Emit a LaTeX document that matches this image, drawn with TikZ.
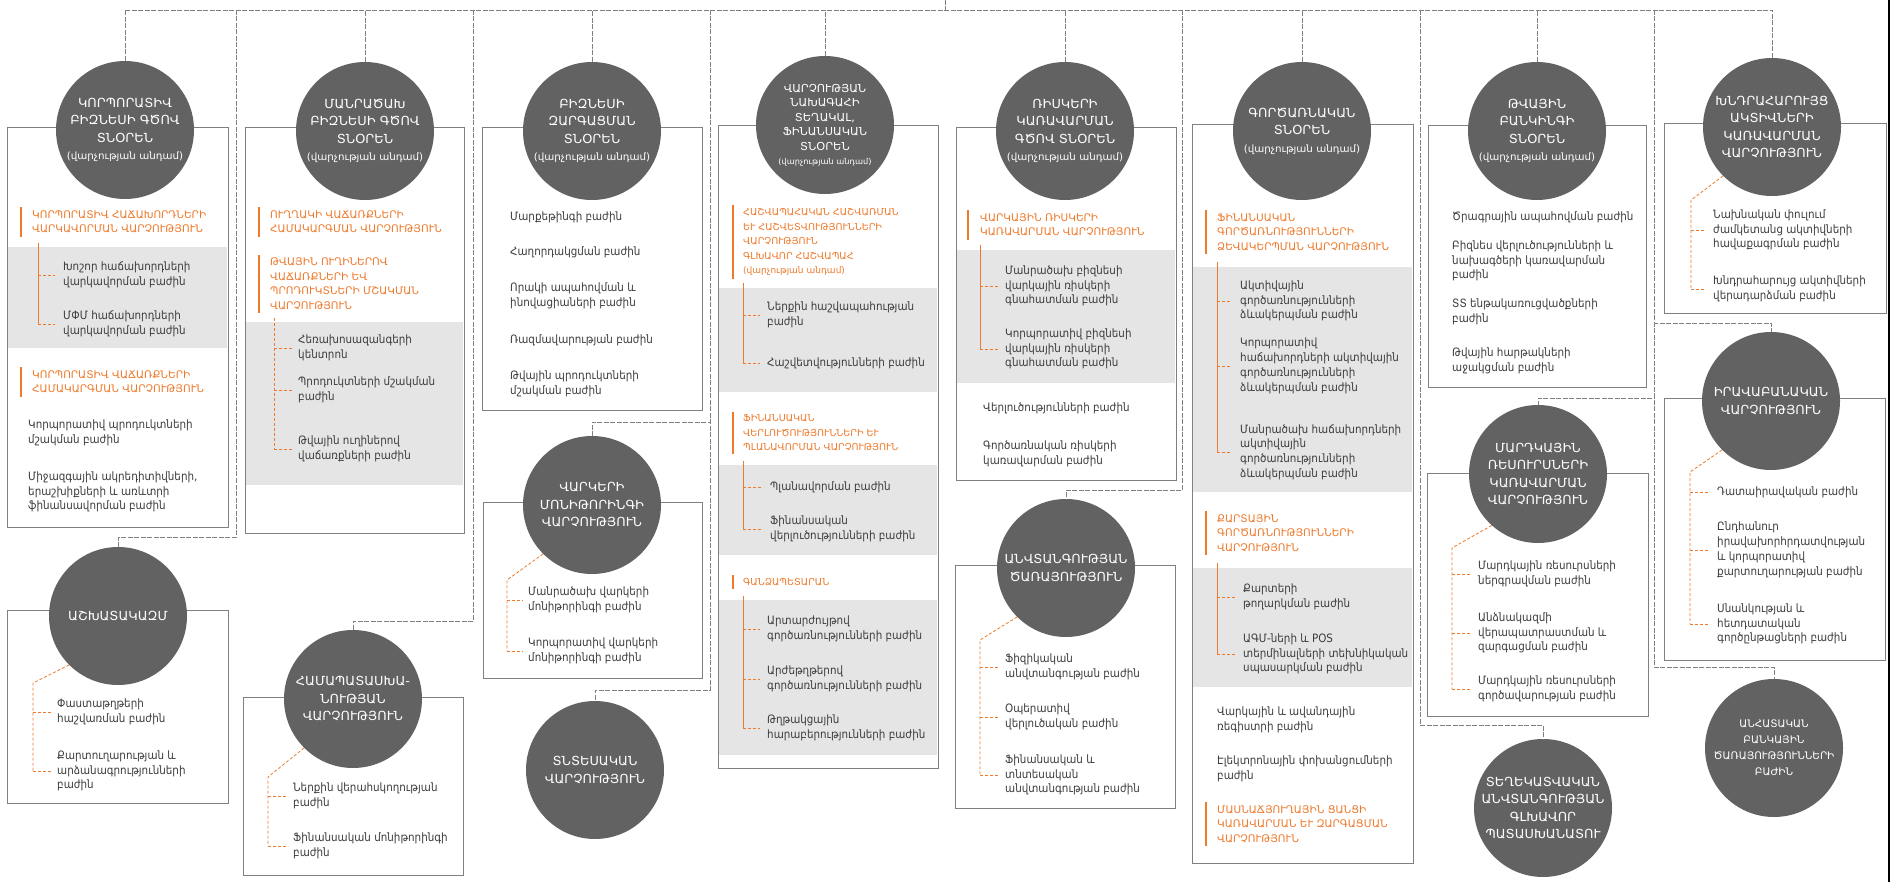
\documentclass[tikz,border=0pt]{standalone}
\usepackage{fontspec}
\setmainfont{DejaVu Sans}
\newfontfamily\armwide{DejaVu Sans}
\newfontfamily\armcirc[FakeStretch=1.03]{DejaVu Sans}
\newfontfamily\armnarrow[FakeStretch=0.9]{DejaVu Sans}
\newcommand\submember{\armcirc\fontsize{10}{12}\selectfont}
\definecolor{dirgray}{HTML}{626262}
\definecolor{bandgray}{HTML}{E5E5E5}
\definecolor{linegray}{HTML}{808080}
\definecolor{orng}{HTML}{EE7A2C}
\definecolor{txtgray}{HTML}{3C3C3C}
\begin{document}
\begin{tikzpicture}[x=1pt,y=-1pt]
  \tikzstyle{director}=[circle,fill=dirgray,text=white,minimum size=138pt,inner sep=0pt,align=center,font=\armcirc\fontsize{12.5}{17.5}\selectfont]
  \tikzstyle{hdr}=[anchor=west,inner sep=0pt,align=left,text=orng,font=\armwide\fontsize{10.5}{14.5}\selectfont]
  \tikzstyle{hdrsmall}=[hdr,font=\armwide\fontsize{9.6}{14.5}\selectfont]
  \tikzstyle{dept}=[anchor=west,inner sep=0pt,align=left,text=txtgray,font=\armnarrow\fontsize{11.5}{14.8}\selectfont]
  \tikzstyle{panel}=[draw=linegray,line width=0.9pt]
  \tikzstyle{band}=[fill=bandgray]
  \tikzstyle{link}=[draw=linegray,line width=0.8pt,dash pattern=on 5pt off 1.5pt]
  \tikzstyle{trunk}=[draw=orng,line width=0.8pt]
  \tikzstyle{twig}=[draw=orng,line width=0.8pt,dash pattern=on 3pt off 2pt]
  \tikzstyle{bar}=[draw=orng,line width=1.2pt]
  \fill[white] (0,0) rectangle (1899,882);
  \useasboundingbox (0,0) rectangle (1899,882);

  % panels and grey bands
  \draw[panel] (7,127) rectangle (228,527);
  \fill[band] (8,247) rectangle (227,348);
  \draw[panel] (7,610) rectangle (228,803);
  \draw[panel] (245,127) rectangle (464,533);
  \fill[band] (246,322) rectangle (463,485);
  \draw[panel] (243,697) rectangle (463,875);
  \draw[panel] (482,127) rectangle (702,410);
  \draw[panel] (483,502) rectangle (702,678);
  \draw[panel] (718,125) rectangle (938,768);
  \fill[band] (719,288) rectangle (937,392);
  \fill[band] (719,465) rectangle (937,555);
  \fill[band] (719,600) rectangle (937,755);
  \draw[panel] (956,127) rectangle (1176,480);
  \fill[band] (957,250) rectangle (1175,383);
  \draw[panel] (955,565) rectangle (1175,808);
  \draw[panel] (1192,124) rectangle (1413,863);
  \fill[band] (1193,267) rectangle (1412,492);
  \fill[band] (1193,568) rectangle (1412,687);
  \draw[panel] (1428,125) rectangle (1646,387);
  \draw[panel] (1427,473) rectangle (1648,716);
  \draw[panel] (1664,123) rectangle (1886,313);
  \draw[panel] (1664,398) rectangle (1885,660);
  \draw[black,line width=1.2pt] (1889,0) -- (1889,882);

  % directors and divisions
  \node[director] (d1) at (125,130) {ԿՈՐՊՈՐԱՏԻՎ\\ԲԻԶՆԵՍԻ ԳԾՈՎ\\ՏՆՕՐԵՆ\\{\submember (վարչության անդամ)}};
  \node[director] (d1b) at (118,616) {ԱՇԽԱՏԱԿԱԶՄ};
  \node[director] (d2) at (365,131) {ՄԱՆՐԱԾԱԽ\\ԲԻԶՆԵՍԻ ԳԾՈՎ\\ՏՆՕՐԵՆ\\{\submember (վարչության անդամ)}};
  \node[director] (d2b) at (353,699) {ՀԱՄԱՊԱՏԱՍԽԱ-\\ՆՈՒԹՅԱՆ\\ՎԱՐՉՈՒԹՅՈՒՆ};
  \node[director] (d3) at (592,131) {ԲԻԶՆԵՍԻ\\ԶԱՐԳԱՑՄԱՆ\\ՏՆՕՐԵՆ\\{\submember (վարչության անդամ)}};
  \node[director] (d3b) at (592,505) {ՎԱՐԿԵՐԻ\\ՄՈՆԻԹՈՐԻՆԳԻ\\ՎԱՐՉՈՒԹՅՈՒՆ};
  \node[director] (d3c) at (595,770) {ՏՆՏԵՍԱԿԱՆ\\ՎԱՐՉՈՒԹՅՈՒՆ};
  \node[director,font=\armcirc\fontsize{11}{14.5}\selectfont] (d4) at (825,125) {ՎԱՐՉՈՒԹՅԱՆ\\ՆԱԽԱԳԱՀԻ\\ՏԵՂԱԿԱԼ,\\ՖԻՆԱՆՍԱԿԱՆ\\ՏՆՕՐԵՆ\\{\fontsize{8}{10}\selectfont (վարչության անդամ)}};
  \node[director] (d5) at (1065,131) {ՌԻՍԿԵՐԻ\\ԿԱՌԱՎԱՐՄԱՆ\\ԳԾՈՎ ՏՆՕՐԵՆ\\{\submember (վարչության անդամ)}};
  \node[director] (d5b) at (1066,568) {ԱՆՎՏԱՆԳՈՒԹՅԱՆ\\ԾԱՌԱՅՈՒԹՅՈՒՆ};
  \node[director] (d6) at (1302,131) {ԳՈՐԾԱՌՆԱԿԱՆ\\ՏՆՕՐԵՆ\\{\submember (վարչության անդամ)}};
  \node[director] (d7) at (1537,131) {ԹՎԱՅԻՆ\\ԲԱՆԿԻՆԳԻ\\ՏՆՕՐԵՆ\\{\submember (վարչության անդամ)}};
  \node[director] (d7b) at (1538,474) {ՄԱՐԴԿԱՅԻՆ\\ՌԵՍՈՒՐՍՆԵՐԻ\\ԿԱՌԱՎԱՐՄԱՆ\\ՎԱՐՉՈՒԹՅՈՒՆ};
  \node[director] (d7c) at (1543,808) {ՏԵՂԵԿԱՏՎԱԿԱՆ\\ԱՆՎՏԱՆԳՈՒԹՅԱՆ\\ԳԼԽԱՎՈՐ\\ՊԱՏԱՍԽԱՆԱՏՈՒ};
  \node[director] (d8) at (1772,127) {ԽՆԴՐԱՀԱՐՈՒՅՑ\\ԱԿՏԻՎՆԵՐԻ\\ԿԱՌԱՎԱՐՄԱՆ\\ՎԱՐՉՈՒԹՅՈՒՆ};
  \node[director] (d8b) at (1771,401) {ԻՐԱՎԱԲԱՆԱԿԱՆ\\ՎԱՐՉՈՒԹՅՈՒՆ};
  \node[director,font=\armwide\fontsize{10.4}{16}\selectfont] (d8c) at (1774,748) {ԱՆՀԱՏԱԿԱՆ\\ԲԱՆԿԱՅԻՆ\\ԾԱՌԱՅՈՒԹՅՈՒՆՆԵՐԻ\\ԲԱԺԻՆ};

  % column 1
  \node[hdr] (h1a) at (32,222) {ԿՈՐՊՈՐԱՏԻՎ ՀԱՃԱԽՈՐԴՆԵՐԻ\\ՎԱՐԿԱՎՈՐՄԱՆ ՎԱՐՉՈՒԹՅՈՒՆ};
  \node[dept] (i1) at (63,275) {Խոշոր հաճախորդների\\վարկավորման բաժին};
  \node[dept] (i2) at (63,324) {ՄՓՄ հաճախորդների\\վարկավորման բաժին};
  \node[hdr] (h1b) at (32,382) {ԿՈՐՊՈՐԱՏԻՎ ՎԱՃԱՌՔՆԵՐԻ\\ՀԱՄԱԿԱՐԳՄԱՆ ՎԱՐՉՈՒԹՅՈՒՆ};
  \node[dept] (i3) at (28,433) {Կորպորատիվ պրոդուկտների\\մշակման բաժին};
  \node[dept] (i4) at (28,492) {Միջազգային ակրեդիտիվների,\\երաշխիքների և առևտրի\\ֆինանսավորման բաժին};
  \node[dept] (i5) at (57,712) {Փաստաթղթերի\\հաշվառման բաժին};
  \node[dept] (i6) at (57,771) {Քարտուղարության և\\արձանագրությունների\\բաժին};

  % column 2
  \node[hdr] (h2a) at (270,222) {ՈՒՂՂԱԿԻ ՎԱՃԱՌՔՆԵՐԻ\\ՀԱՄԱԿԱՐԳՄԱՆ ՎԱՐՉՈՒԹՅՈՒՆ};
  \node[hdr] (h2b) at (270,284) {ԹՎԱՅԻՆ ՈՒՂԻՆԵՐՈՎ\\ՎԱՃԱՌՔՆԵՐԻ ԵՎ\\ՊՐՈԴՈՒԿՏՆԵՐԻ ՄՇԱԿՄԱՆ\\ՎԱՐՉՈՒԹՅՈՒՆ};
  \node[dept] (i7) at (298,348) {Հեռախոսազանգերի\\կենտրոն};
  \node[dept] (i8) at (298,390) {Պրոդուկտների մշակման\\բաժին};
  \node[dept] (i9) at (298,449) {Թվային ուղիներով\\վաճառքների բաժին};
  \node[dept] (i10) at (293,796) {Ներքին վերահսկողության\\բաժին};
  \node[dept] (i11) at (293,846) {Ֆինանսական մոնիթորինգի\\բաժին};

  % column 3
  \node[dept] (i12) at (510,217) {Մարքեթինգի բաժին};
  \node[dept] (i13) at (510,252) {Հաղորդակցման բաժին};
  \node[dept] (i14) at (510,296) {Որակի ապահովման և\\ինովացիաների բաժին};
  \node[dept] (i15) at (510,340) {Ռազմավարության բաժին};
  \node[dept] (i16) at (510,384) {Թվային պրոդուկտների\\մշակման բաժին};
  \node[dept] (i17) at (528,600) {Մանրածախ վարկերի\\մոնիթորինգի բաժին};
  \node[dept] (i18) at (528,651) {Կորպորատիվ վարկերի\\մոնիթորինգի բաժին};

  % column 4
  \node[hdrsmall] (h4a) at (743,242) {ՀԱՇՎԱՊԱՀԱԿԱՆ ՀԱՇՎԱՌՄԱՆ\\ԵՒ ՀԱՇՎԵՏՎՈՒԹՅՈՒՆՆԵՐԻ\\ՎԱՐՉՈՒԹՅՈՒՆ\\ԳԼԽԱՎՈՐ ՀԱՇՎԱՊԱՀ\\{\fontsize{9}{11}\selectfont (վարչության անդամ)}};
  \node[dept] (i19) at (767,315) {Ներքին հաշվապահության\\բաժին};
  \node[dept] (i20) at (767,363) {Հաշվետվությունների բաժին};
  \node[hdrsmall] (h4b) at (743,433) {ՖԻՆԱՆՍԱԿԱՆ\\ՎԵՐԼՈՒԾՈՒԹՅՈՒՆՆԵՐԻ ԵՒ\\ՊԼԱՆԱՎՈՐՄԱՆ ՎԱՐՉՈՒԹՅՈՒՆ};
  \node[dept] (i21) at (770,487) {Պլանավորման բաժին};
  \node[dept] (i22) at (770,529) {Ֆինանսական\\վերլուծությունների բաժին};
  \node[hdrsmall] (h4c) at (743,582) {ԳԱՆՁԱՊԵՏԱՐԱՆ};
  \node[dept] (i23) at (767,629) {Արտարժույթով\\գործառնությունների բաժին};
  \node[dept] (i24) at (767,679) {Արժեթղթերով\\գործառնությունների բաժին};
  \node[dept] (i25) at (767,728) {Թղթակցային\\հարաբերությունների բաժին};

  % column 5
  \node[hdr] (h5) at (980,225) {ՎԱՐԿԱՅԻՆ ՌԻՍԿԵՐԻ\\ԿԱՌԱՎԱՐՄԱՆ ՎԱՐՉՈՒԹՅՈՒՆ};
  \node[dept] (i26) at (1005,286) {Մանրածախ բիզնեսի\\վարկային ռիսկերի\\գնահատման բաժին};
  \node[dept] (i27) at (1005,349) {Կորպորատիվ բիզնեսի\\վարկային ռիսկերի\\գնահատման բաժին};
  \node[dept] (i28) at (983,408) {Վերլուծությունների բաժին};
  \node[dept] (i29) at (983,454) {Գործառնական ռիսկերի\\կառավարման բաժին};
  \node[dept] (i30) at (1005,667) {Ֆիզիկական\\անվտանգության բաժին};
  \node[dept] (i31) at (1005,717) {Օպերատիվ\\վերլուծական բաժին};
  \node[dept] (i32) at (1005,775) {Ֆինանսական և\\տնտեսական\\անվտանգության բաժին};

  % column 6
  \node[hdr] (h6a) at (1217,232) {ՖԻՆԱՆՍԱԿԱՆ\\ԳՈՐԾԱՌՆՈՒԹՅՈՒՆՆԵՐԻ\\ՁԵՎԱԿԵՐՊՄԱՆ ՎԱՐՉՈՒԹՅՈՒՆ};
  \node[dept] (i33) at (1240,301) {Ակտիվային\\գործառնությունների\\ձևակերպման բաժին};
  \node[dept] (i34) at (1240,366) {Կորպորատիվ\\հաճախորդների ակտիվային\\գործառնությունների\\ձևակերպման բաժին};
  \node[dept] (i35) at (1240,452) {Մանրածախ հաճախորդների\\ակտիվային\\գործառնությունների\\ձևակերպման բաժին};
  \node[hdr] (h6b) at (1217,533) {ՔԱՐՏԱՅԻՆ\\ԳՈՐԾԱՌՆՈՒԹՅՈՒՆՆԵՐԻ\\ՎԱՐՉՈՒԹՅՈՒՆ};
  \node[dept] (i36) at (1243,597) {Քարտերի\\թողարկման բաժին};
  \node[dept] (i37) at (1243,654) {ԱԳՄ-ների և POS\\տերմինալների տեխնիկական\\սպասարկման բաժին};
  \node[dept] (i38) at (1217,720) {Վարկային և ավանդային\\ռեգիստրի բաժին};
  \node[dept] (i39) at (1217,769) {Էլեկտրոնային փոխանցումների\\բաժին};
  \node[hdr] (h6c) at (1217,824) {ՄԱՍՆԱՃՅՈՒՂԱՅԻՆ ՑԱՆՑԻ\\ԿԱՌԱՎԱՐՄԱՆ ԵՒ ԶԱՐԳԱՑՄԱՆ\\ՎԱՐՉՈՒԹՅՈՒՆ};

  % column 7
  \node[dept] (i40) at (1452,217) {Ծրագրային ապահովման բաժին};
  \node[dept] (i41) at (1452,261) {Բիզնես վերլուծությունների և\\նախագծերի կառավարման\\բաժին};
  \node[dept] (i42) at (1452,312) {ՏՏ ենթակառուցվածքների\\բաժին};
  \node[dept] (i43) at (1452,361) {Թվային հարթակների\\աջակցման բաժին};
  \node[dept] (i44) at (1478,574) {Մարդկային ռեսուրսների\\ներգրավման բաժին};
  \node[dept] (i45) at (1478,633) {Անձնակազմի\\վերապատրաստման և\\զարգացման բաժին};
  \node[dept] (i46) at (1478,689) {Մարդկային ռեսուրսների\\գործավարության բաժին};

  % column 8
  \node[dept] (i47) at (1713,230) {Նախնական փուլում\\ժամկետանց ակտիվների\\հավաքագրման բաժին};
  \node[dept] (i48) at (1713,289) {Խնդրահարույց ակտիվների\\վերադարձման բաժին};
  \node[dept] (i49) at (1717,492) {Դատաիրավական բաժին};
  \node[dept] (i50) at (1717,550) {Ընդհանուր\\իրավախորհրդատվության\\և կորպորատիվ\\քարտուղարության բաժին};
  \node[dept] (i51) at (1717,624) {Սնանկության և\\հետդատական\\գործընթացների բաժին};

  % orange bars
  \draw[bar] ([shift={(-11,-3)}]h1a.north west) -- ([shift={(-11,3)}]h1a.south west);
  \draw[bar] ([shift={(-11,-3)}]h1b.north west) -- ([shift={(-11,3)}]h1b.south west);
  \draw[bar] ([shift={(-11,-3)}]h2a.north west) -- ([shift={(-11,3)}]h2a.south west);
  \draw[bar] ([shift={(-11,-3)}]h2b.north west) -- ([shift={(-11,3)}]h2b.south west);
  \draw[bar] ([shift={(-10,-3)}]h4a.north west) -- ([shift={(-10,3)}]h4a.south west);
  \draw[bar] ([shift={(-10,-3)}]h4b.north west) -- ([shift={(-10,3)}]h4b.south west);
  \draw[bar] ([shift={(-10,-3)}]h4c.north west) -- ([shift={(-10,3)}]h4c.south west);
  \draw[bar] ([shift={(-12,-3)}]h5.north west) -- ([shift={(-12,3)}]h5.south west);
  \draw[bar] ([shift={(-11,-3)}]h6a.north west) -- ([shift={(-11,3)}]h6a.south west);
  \draw[bar] ([shift={(-11,-3)}]h6b.north west) -- ([shift={(-11,3)}]h6b.south west);
  \draw[bar] ([shift={(-11,-3)}]h6c.north west) -- ([shift={(-11,3)}]h6c.south west);

  % orange trees
  \coordinate (t1) at (38,243);
  \draw[trunk] (t1) -- (t1 |- i2.west);
  \draw[twig] (t1 |- i1.west) -- ([xshift=-8pt]i1.west);
  \draw[twig] (t1 |- i2.west) -- ([xshift=-8pt]i2.west);
  \draw[twig] (d1b.225) -- (33,683) coordinate (t1b) -- (t1b |- i6.west);
  \draw[twig] (t1b |- i5.west) -- ([xshift=-6pt]i5.west);
  \draw[twig] (t1b |- i6.west) -- ([xshift=-6pt]i6.west);
  \coordinate (t2) at (274,318);
  \draw[twig] (t2) -- (t2 |- i9.west);
  \draw[twig] (t2 |- i7.west) -- ([xshift=-6pt]i7.west);
  \draw[twig] (t2 |- i8.west) -- ([xshift=-6pt]i8.west);
  \draw[twig] (t2 |- i9.west) -- ([xshift=-6pt]i9.west);
  \draw[twig] (d2b.225) -- (268,777) coordinate (t2b) -- (t2b |- i11.west);
  \draw[twig] (t2b |- i10.west) -- ([xshift=-5pt]i10.west);
  \draw[twig] (t2b |- i11.west) -- ([xshift=-5pt]i11.west);
  \draw[twig] (d3b.225) -- (507,580) coordinate (t3b) -- (t3b |- i18.west);
  \draw[twig] (t3b |- i17.west) -- ([xshift=-5pt]i17.west);
  \draw[twig] (t3b |- i18.west) -- ([xshift=-5pt]i18.west);
  \coordinate (t4a) at (743,283);
  \draw[trunk] (t4a) -- (t4a |- i20.west);
  \draw[twig] (t4a |- i19.west) -- ([xshift=-7pt]i19.west);
  \draw[twig] (t4a |- i20.west) -- ([xshift=-7pt]i20.west);
  \coordinate (t4b) at (743,461);
  \draw[trunk] (t4b) -- (t4b |- i22.west);
  \draw[twig] (t4b |- i21.west) -- ([xshift=-7pt]i21.west);
  \draw[twig] (t4b |- i22.west) -- ([xshift=-7pt]i22.west);
  \coordinate (t4c) at (743,596);
  \draw[trunk] (t4c) -- (t4c |- i25.west);
  \draw[twig] (t4c |- i23.west) -- ([xshift=-7pt]i23.west);
  \draw[twig] (t4c |- i24.west) -- ([xshift=-7pt]i24.west);
  \draw[twig] (t4c |- i25.west) -- ([xshift=-7pt]i25.west);
  \coordinate (t5) at (980,245);
  \draw[trunk] (t5) -- (t5 |- i27.west);
  \draw[twig] (t5 |- i26.west) -- ([xshift=-7pt]i26.west);
  \draw[twig] (t5 |- i27.west) -- ([xshift=-7pt]i27.west);
  \draw[twig] (d5b.225) -- (980,640) coordinate (t5b) -- (t5b |- i32.west);
  \draw[twig] (t5b |- i30.west) -- ([xshift=-7pt]i30.west);
  \draw[twig] (t5b |- i31.west) -- ([xshift=-7pt]i31.west);
  \draw[twig] (t5b |- i32.west) -- ([xshift=-7pt]i32.west);
  \coordinate (t6a) at (1217,262);
  \draw[trunk] (t6a) -- (t6a |- i35.west);
  \draw[twig] (t6a |- i33.west) -- ([xshift=-8pt]i33.west);
  \draw[twig] (t6a |- i34.west) -- ([xshift=-8pt]i34.west);
  \draw[twig] (t6a |- i35.west) -- ([xshift=-8pt]i35.west);
  \coordinate (t6b) at (1217,563);
  \draw[trunk] (t6b) -- (t6b |- i37.west);
  \draw[twig] (t6b |- i36.west) -- ([xshift=-8pt]i36.west);
  \draw[twig] (t6b |- i37.west) -- ([xshift=-8pt]i37.west);
  \draw[twig] (d7b.228) -- (1452,548) coordinate (t7b) -- (t7b |- i46.west);
  \draw[twig] (t7b |- i44.west) -- ([xshift=-8pt]i44.west);
  \draw[twig] (t7b |- i45.west) -- ([xshift=-8pt]i45.west);
  \draw[twig] (t7b |- i46.west) -- ([xshift=-8pt]i46.west);
  \draw[twig] (d8.225) -- (1691,200) coordinate (t8) -- (t8 |- i48.west);
  \draw[twig] (t8 |- i47.west) -- ([xshift=-8pt]i47.west);
  \draw[twig] (t8 |- i48.west) -- ([xshift=-8pt]i48.west);
  \draw[twig] (d8b.225) -- (1690,472) coordinate (t8b) -- (t8b |- i51.west);
  \draw[twig] (t8b |- i49.west) -- ([xshift=-8pt]i49.west);
  \draw[twig] (t8b |- i50.west) -- ([xshift=-8pt]i50.west);
  \draw[twig] (t8b |- i51.west) -- ([xshift=-8pt]i51.west);

  % grey connectors
  \coordinate (busL) at (125,10);
  \coordinate (busR) at (1773,10);
  \coordinate (ceo) at (945,0);
  \draw[link] (busL) -- (busR);
  \draw[link] (ceo) -- (ceo |- busL);
  \draw[link] (d1.north) -- (d1.north |- busL);
  \draw[link] (d2.north) -- (d2.north |- busL);
  \draw[link] (d3.north) -- (d3.north |- busL);
  \draw[link] (d4.north) -- (d4.north |- busL);
  \draw[link] (d5.north) -- (d5.north |- busL);
  \draw[link] (d6.north) -- (d6.north |- busL);
  \draw[link] (d7.north) -- (d7.north |- busL);
  \draw[link] (d8.north) -- (d8.north |- busL);
  \coordinate (s1) at (236,10);
  \coordinate (s2) at (473,10);
  \coordinate (s3) at (710,10);
  \coordinate (s4) at (1182,10);
  \coordinate (s5) at (1420,10);
  \coordinate (s6) at (1654,10);
  \draw[link] (s1) -- ++(0,527) -| (d1b.north);
  \draw[link] (s2) -- ++(0,611) -| (d2b.north);
  \draw[link] (s3) -- ++(0,412) -| (d3b.north);
  \draw[link] (s3) -- ++(0,680) -| (d3c.north);
  \draw[link] (s4) -- ++(0,480) -| (d5b.north);
  \draw[link] (s5) -- ++(0,715) -| (d7c.north);
  \draw[link] (s6) -- ++(0,313) -| (d8b.north);
  \draw[link] (s6) -- ++(0,388) -| (d7b.north);
  \draw[link] (s6) -- ++(0,657) -| (d8c.north);
\end{tikzpicture}
\end{document}
